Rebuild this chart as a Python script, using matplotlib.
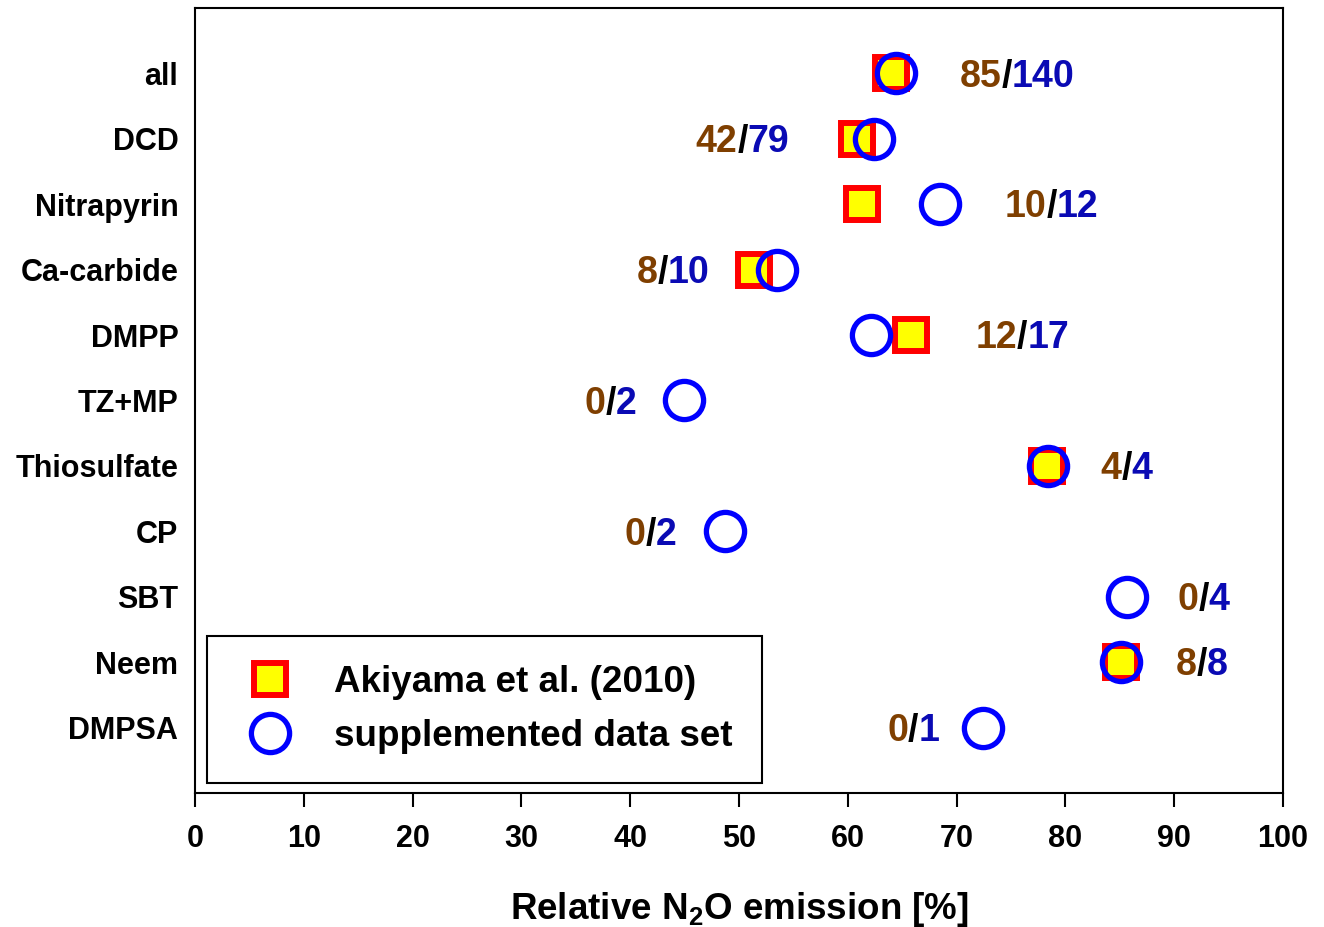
import numpy as np
import matplotlib.pyplot as plt

plt.rcParams['font.family'] = ['Liberation Sans', 'DejaVu Sans']
plt.rcParams['font.weight'] = 'bold'

# inhibitor categories, top to bottom
inhibitors = ['all', 'DCD', 'Nitrapyrin', 'Ca-carbide', 'DMPP', 'TZ+MP',
              'Thiosulfate', 'CP', 'SBT', 'Neem', 'DMPSA']

# relative N2O emission [%]
akiyama = [64.0, 60.8, 61.3, 51.4, 65.8, np.nan, 78.3, np.nan, np.nan, 85.1, np.nan]
supplemented = [64.4, 62.4, 68.5, 53.5, 62.1, 44.9, 78.4, 48.7, 85.7, 85.1, 72.4]

# number of observations: Akiyama / supplemented
n_akiyama = [85, 42, 10, 8, 12, 0, 4, 0, 0, 8, 0]
n_supplemented = [140, 79, 12, 10, 17, 2, 4, 2, 4, 8, 1]

# where the count labels start (x, in %)
label_x = [70.3, 46.0, 74.4, 40.6, 71.7, 35.8, 83.2, 39.5, 90.3, 90.1, 63.6]

brown = '#7f3f00'
dark_blue = '#0a0ab4'

fig = plt.figure(figsize=(13.24, 9.27), dpi=100)
ax = fig.add_axes([0.1473, 0.1445, 0.8218, 0.847])

y = np.arange(len(inhibitors))

ax.plot(akiyama, y, linestyle='none', marker='s', markersize=23,
        markerfacecolor='#ffff00', markeredgecolor='#ff0000', markeredgewidth=4.3,
        label='Akiyama et al. (2010)', zorder=3)
ax.plot(supplemented, y, linestyle='none', marker='o', markersize=27.5,
        markerfacecolor='none', markeredgecolor='#0000ff', markeredgewidth=3.8,
        label='supplemented data set', zorder=4)

# counts as coloured text pieces: brown / black / blue
for i in range(len(inhibitors)):
    t1 = ax.text(label_x[i], y[i] + 0.05, str(n_akiyama[i]), color=brown, fontsize=27,
                 fontweight='bold', ha='left', va='center')
    t2 = ax.annotate('/', xy=(1, 0), xycoords=t1, color='black', fontsize=27,
                     fontweight='bold', ha='left', va='bottom')
    ax.annotate(str(n_supplemented[i]), xy=(1, 0), xycoords=t2, color=dark_blue,
                fontsize=27, fontweight='bold', ha='left', va='bottom')

ax.set_xlim(0, 100)
ax.set_ylim(11, -1)
ax.set_xticks(range(0, 101, 10))
ax.set_yticks(y)
ax.set_yticklabels(inhibitors)
ax.tick_params(axis='x', direction='out', length=10, width=1.5, labelsize=22, pad=12)
ax.tick_params(axis='y', length=0, labelsize=22, pad=12)
for lab in ax.get_xticklabels() + ax.get_yticklabels():
    lab.set_fontweight('bold')
for sp in ax.spines.values():
    sp.set_linewidth(1.5)

ax.set_xlabel(r'Relative N$_\mathregular{2}$O emission [%]', fontsize=26.5,
              fontweight='bold', labelpad=26)

leg = ax.legend(loc='lower left', bbox_to_anchor=(0.011, 0.0127), fontsize=26.5,
                frameon=True, fancybox=False, framealpha=1, borderpad=0.8,
                labelspacing=0.5, handlelength=1.8, handletextpad=0.85,
                borderaxespad=0)
leg.get_frame().set_edgecolor('black')
leg.get_frame().set_linewidth(1.5)
for t in leg.get_texts():
    t.set_fontweight('bold')

fig.savefig('out.png', dpi=100)
